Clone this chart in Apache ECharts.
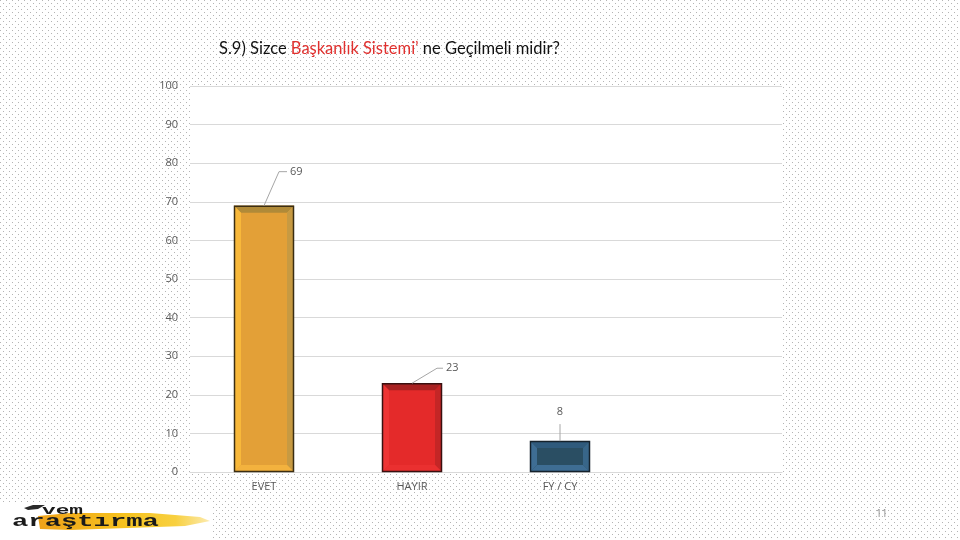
<!DOCTYPE html>
<html>
<head>
<meta charset="utf-8">
<script src="https://cdn.jsdelivr.net/npm/echarts@6/dist/echarts.min.js"></script>
<style>
html,body{margin:0;padding:0;width:960px;height:540px;overflow:hidden;}
body{background-color:#fff;background-image:url("data:image/svg+xml;utf8,<svg xmlns='http://www.w3.org/2000/svg' width='6' height='6'><rect x='0' y='0' width='1' height='1' fill='%23b4b4b4'/><rect x='3' y='3' width='1' height='1' fill='%23b4b4b4'/></svg>");}
#c{width:960px;height:540px;}
</style>
</head>
<body>
<div id="c"></div>
<script>
// ---- data ----
const categories = ['EVET', 'HAYIR', 'FY / CY', ''];
const values = [69, 23, 8];
const yTicks = [0, 10, 20, 30, 40, 50, 60, 70, 80, 90, 100];

// ---- styles (not data) ----
const barStyles = [
  {fill:'#E3A037', top:'#B08A38', left:'#F8B83A', right:'#C79A42', bottom:'#F3B23E', border:'#3b2d12'},
  {fill:'#E42A2A', top:'#A82222', left:'#EE3434', right:'#C42626', bottom:'#EA3030', border:'#3a1010'},
  {fill:'#2A4E63', top:'#2F5A7C', left:'#3E6D93', right:'#386689', bottom:'#3E6D93', border:'#15222c'}
];
// leader line geometry relative to bar top centre
const leaders = [
  {pts:[[0,0],[15,-34],[23,-34]], label:[26,-34], align:'left'},
  {pts:[[0,0],[25,-15],[31,-15]], label:[34,-15], align:'left'},
  {pts:[[0,0],[0,-17]], label:[0,-29], align:'center'}
];
const BAR_W = 60, BEV = 7;

const chart = echarts.init(document.getElementById('c'), null, {renderer:'canvas'});

function renderBar(params, api) {
  const i = params.dataIndex;
  const st = barStyles[i];
  const top = api.coord([api.value(0), api.value(1)]);
  const base = api.coord([api.value(0), 0]);
  const x0 = top[0] - BAR_W/2, x1 = top[0] + BAR_W/2;
  const y0 = top[1], y1 = base[1];
  const b = Math.min(BEV, (y1-y0)/2);
  const ix0 = x0+b, ix1 = x1-b, iy0 = y0+b, iy1 = y1-b;
  const children = [
    {type:'rect', shape:{x:x0, y:y0, width:BAR_W, height:y1-y0}, style:{fill:st.fill}},
    {type:'polygon', shape:{points:[[x0,y0],[x1,y0],[ix1,iy0],[ix0,iy0]]}, style:{fill:st.top}},
    {type:'polygon', shape:{points:[[x0,y0],[ix0,iy0],[ix0,iy1],[x0,y1]]}, style:{fill:st.left}},
    {type:'polygon', shape:{points:[[x1,y0],[x1,y1],[ix1,iy1],[ix1,iy0]]}, style:{fill:st.right}},
    {type:'polygon', shape:{points:[[x0,y1],[ix0,iy1],[ix1,iy1],[x1,y1]]}, style:{fill:st.bottom}},
    {type:'rect', shape:{x:x0+0.5, y:y0+0.5, width:BAR_W-1, height:y1-y0-1}, style:{fill:null, stroke:st.border, lineWidth:1.5}}
  ];
  const ld = leaders[i];
  children.push({type:'polyline', shape:{points:ld.pts.map(p=>[top[0]+p[0], y0+p[1]])}, style:{stroke:'#a6a6a6', lineWidth:1, fill:null}});
  children.push({type:'text', x:top[0]+ld.label[0], y:y0+ld.label[1], style:{text:String(api.value(1)), fill:'#595959', font:'11px "Open Sans", sans-serif', align:ld.align, verticalAlign:'middle'}});
  return {type:'group', children};
}

const option = {
  animation:false,
  backgroundColor:'transparent',
  title:{
    text:'{b|S.9) Sizce }{r|Başkanlık Sistemi’}{b| ne Geçilmeli midir?}',
    left:214, top:35,
    textStyle:{rich:{
      b:{fontSize:16.5, fontWeight:'normal', color:'#111', fontFamily:'Lato, sans-serif'},
      r:{fontSize:16.5, fontWeight:'normal', color:'#E0312F', fontFamily:'Lato, sans-serif'}
    }}
  },
  grid:{left:190, right:178, top:86, bottom:68, show:true, backgroundColor:'#ffffff', borderWidth:0},
  xAxis:{
    type:'category', data:categories,
    axisLine:{show:true, lineStyle:{color:'#d9d9d9'}},
    axisTick:{show:false},
    axisLabel:{color:'#595959', fontSize:11, margin:9, fontFamily:'"Open Sans", sans-serif'}
  },
  yAxis:{
    type:'value', min:yTicks[0], max:yTicks[yTicks.length-1], interval:10,
    axisLine:{show:false}, axisTick:{show:false},
    axisLabel:{color:'#595959', fontSize:11, margin:12, fontFamily:'"Open Sans", sans-serif'},
    splitLine:{lineStyle:{color:'#d9d9d9', width:1}}
  },
  series:[{
    type:'custom',
    renderItem:renderBar,
    data:values.map((v,i)=>[i, v]),
    encode:{x:0, y:1},
    z:5
  }],
  graphic:[
    {type:'rect', left:0, top:503, shape:{width:212, height:37}, style:{fill:'#fff'}},
    {type:'polygon', shape:{points:[[38,516],[70,513],[150,513],[200,517],[210,521],[185,526],[70,530],[40,529]]}, style:{fill:new echarts.graphic.LinearGradient(0,0,1,0,[{offset:0,color:'#EFA21A'},{offset:0.5,color:'#F6C21E'},{offset:0.8,color:'#F8D040'},{offset:1,color:'#FCEBB0'}])}},
    {type:'polygon', shape:{points:[[24,508],[33,505],[45,505],[38,509],[28,510]]}, style:{fill:'#2a2a2a'}},
    {type:'text', x:42, y:505, scaleX:1.9, style:{text:'vem', fill:'#1a1a1a', font:'bold 12px "Liberation Mono", monospace'}},
    {type:'text', x:12, y:513, scaleX:1.6, style:{text:'araştırma', fill:'#1a1a1a', font:'bold 17px "Liberation Mono", monospace'}},
    {type:'text', left:876, top:509, style:{text:'11', fill:'#8c8c8c', font:'10px "Open Sans", sans-serif'}}
  ]
};
chart.setOption(option);
</script>
</body>
</html>
